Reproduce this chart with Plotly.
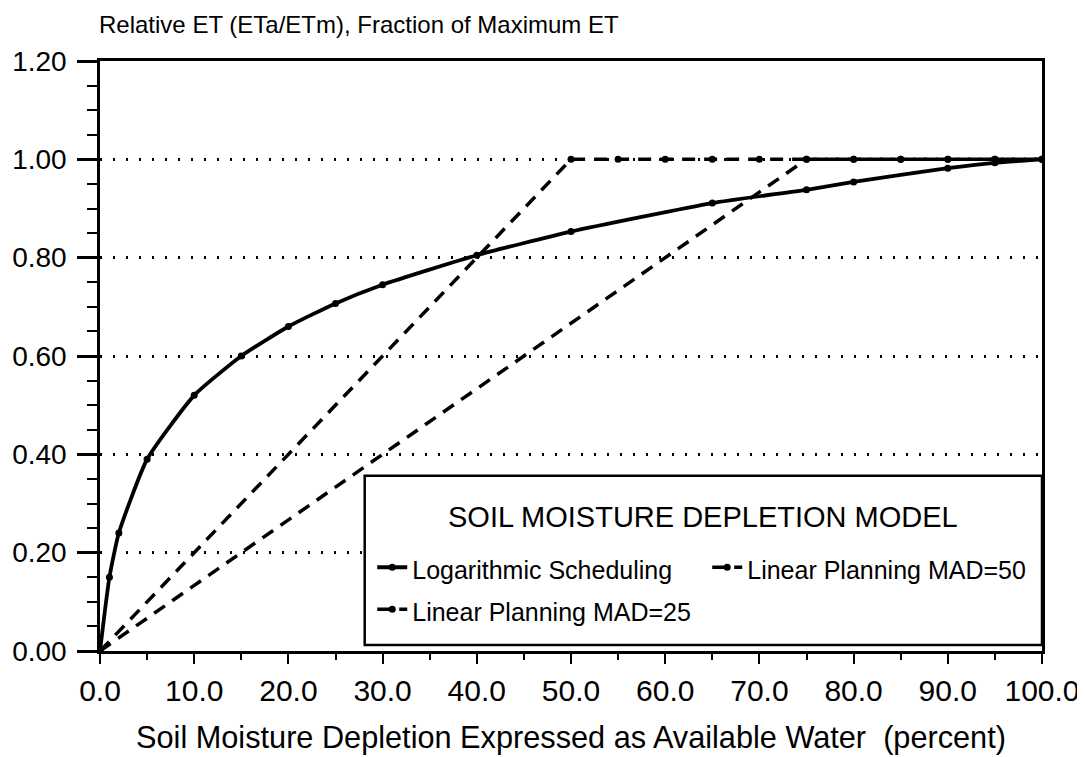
import plotly.graph_objects as go

# Soil moisture depletion (% of available water) vs relative ET
depletion_log = [0, 1, 2, 5, 10, 15, 20, 25, 30, 40, 50, 65, 75, 80, 90, 95, 100]
et_log = [0.0, 0.15, 0.24, 0.39, 0.52, 0.60, 0.66, 0.707, 0.745, 0.805, 0.853, 0.911, 0.938, 0.954, 0.982, 0.993, 1.0]

depletion_mad50 = [0, 50, 55, 60, 65, 70, 75, 80, 85, 90, 95, 100]
et_mad50 = [0.0, 1.0, 1.0, 1.0, 1.0, 1.0, 1.0, 1.0, 1.0, 1.0, 1.0, 1.0]

depletion_mad25 = [0, 75, 80, 85, 90, 95, 100]
et_mad25 = [0.0, 1.0, 1.0, 1.0, 1.0, 1.0, 1.0]

x_ticks = [0, 10, 20, 30, 40, 50, 60, 70, 80, 90, 100]
x_tick_labels = ["0.0", "10.0", "20.0", "30.0", "40.0", "50.0", "60.0", "70.0", "80.0", "90.0", "100.0"]
y_ticks = [0.0, 0.2, 0.4, 0.6, 0.8, 1.0, 1.2]
y_tick_labels = ["0.00", "0.20", "0.40", "0.60", "0.80", "1.00", "1.20"]

FONT = "Arial, Liberation Sans, sans-serif"


def sized(text, size):
    return f'<span style="font-size:{size}px">{text}</span>'


fig = go.Figure()
fig.add_trace(go.Scatter(
    x=depletion_log, y=et_log, name=sized("Logarithmic Scheduling", 25),
    mode="lines+markers",
    line=dict(color="black", width=3.8, shape="spline", smoothing=0.5),
    marker=dict(color="black", size=7),
))
fig.add_trace(go.Scatter(
    x=depletion_mad50, y=et_mad50, name=sized("Linear Planning MAD=50", 25),
    mode="lines+markers",
    line=dict(color="black", width=3.5, dash="13px,9px"),
    marker=dict(color="black", size=7),
))
fig.add_trace(go.Scatter(
    x=depletion_mad25, y=et_mad25, name=sized("Linear Planning MAD=25", 25),
    mode="lines+markers",
    line=dict(color="black", width=3.5, dash="13px,9px"),
    marker=dict(color="black", size=7),
))

# legend frame and heading
fig.add_shape(
    type="rect", xref="paper", yref="paper",
    x0=0.281, x1=1.0, y0=0.01, y1=0.297,
    fillcolor="white", line=dict(color="black", width=2.5), layer="above",
)
fig.add_annotation(
    text="SOIL MOISTURE DEPLETION MODEL",
    xref="paper", yref="paper", x=0.6405, y=0.227, xanchor="center", yanchor="middle",
    showarrow=False, font=dict(family=FONT, size=29, color="black"),
)

fig.add_annotation(
    text="Relative ET (ETa/ETm), Fraction of Maximum ET",
    xref="paper", yref="paper", x=0, y=1, xanchor="left", yanchor="bottom",
    yshift=21, xshift=-3, showarrow=False, font=dict(family=FONT, size=24, color="black"),
)

fig.update_layout(
    width=1077, height=749,
    margin=dict(l=92, r=43, t=53, b=106, autoexpand=False),
    paper_bgcolor="white", plot_bgcolor="white",
    font=dict(family=FONT, color="black"),
    showlegend=True,
    legend=dict(
        x=0.289, y=0.186, xanchor="left", yanchor="top",
        orientation="h", entrywidth=290, itemwidth=30,
        bgcolor="rgba(0,0,0,0)",
        font=dict(family=FONT, size=30, color="black"),
    ),
    xaxis=dict(
        range=[0, 100], tickvals=x_ticks, ticktext=x_tick_labels,
        ticks="outside", ticklen=10, tickwidth=2, tickcolor="black",
        minor=dict(dtick=5, ticks="outside", ticklen=6, tickwidth=1.5, tickcolor="black"),
        showline=True, linewidth=2.5, linecolor="black", mirror=True,
        showgrid=False, zeroline=False, ticklabelstandoff=1, automargin=False,
        tickfont=dict(family=FONT, size=30, color="black"),
        title=dict(text="Soil Moisture Depletion Expressed as Available Water  (percent)",
                   font=dict(family=FONT, size=30.7, color="black"), standoff=21),
    ),
    yaxis=dict(
        range=[0, 1.2], tickvals=y_ticks, ticktext=y_tick_labels,
        ticks="outside", ticklen=20, tickwidth=2.5, tickcolor="black",
        minor=dict(dtick=0.05, ticks="outside", ticklen=10, tickwidth=2, tickcolor="black"),
        showline=True, linewidth=2.5, linecolor="black", mirror=True,
        showgrid=True, gridcolor="black", gridwidth=2.5, griddash="2px,11px",
        zeroline=False, ticklabelstandoff=5, automargin=False,
        tickfont=dict(family=FONT, size=28, color="black"),
    ),
)

fig.write_html("out.html")
